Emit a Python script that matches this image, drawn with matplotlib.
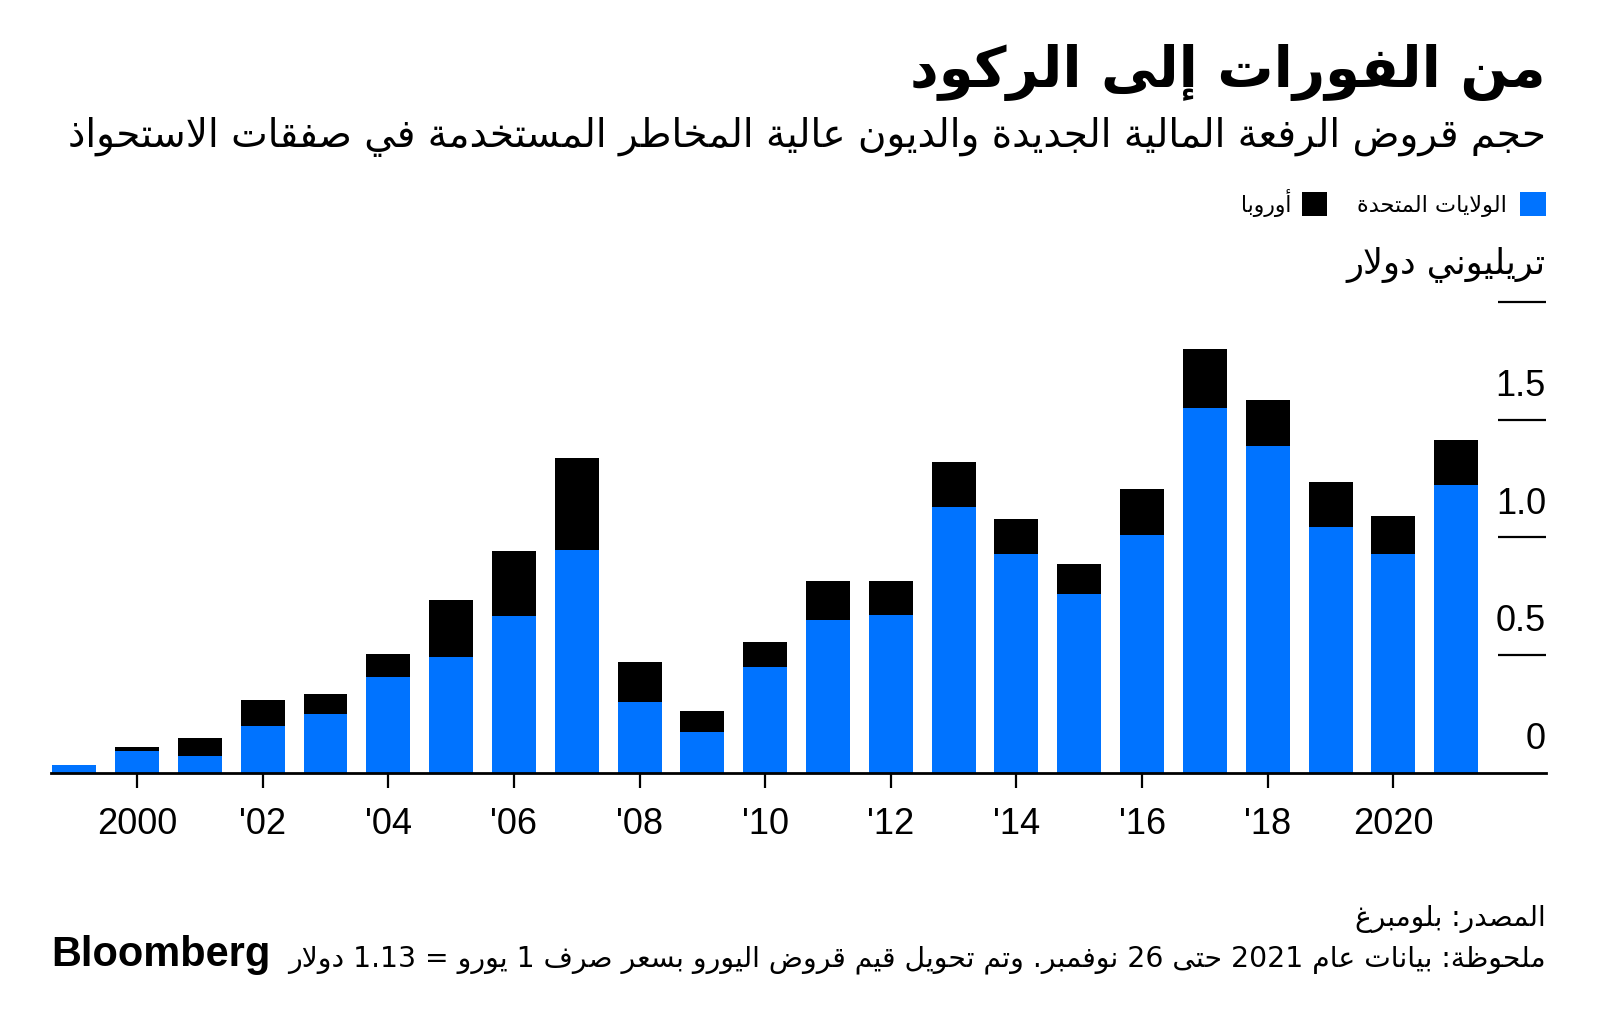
import re
import matplotlib
matplotlib.use("Agg")
import matplotlib.pyplot as plt
from matplotlib.patches import Rectangle
import matplotlib.transforms as mtransforms

# ---------------- data ----------------
years = list(range(1999, 2022))
us = [0.033, 0.093, 0.072, 0.198, 0.249, 0.407, 0.489, 0.667, 0.947, 0.300, 0.174, 0.447,
      0.650, 0.671, 1.128, 0.928, 0.760, 1.011, 1.548, 1.390, 1.043, 0.928, 1.222]
europe = [0.0, 0.014, 0.076, 0.110, 0.084, 0.095, 0.243, 0.274, 0.392, 0.171, 0.087, 0.108,
          0.166, 0.145, 0.192, 0.149, 0.128, 0.194, 0.252, 0.192, 0.192, 0.164, 0.192]
xtick_years = [2000, 2002, 2004, 2006, 2008, 2010, 2012, 2014, 2016, 2018, 2020]
xtick_labels = ["2000", "'02", "'04", "'06", "'08", "'10", "'12", "'14", "'16", "'18", "2020"]
ytick_vals = [0, 0.5, 1.0, 1.5]
ytick_labels = ["0", "0.5", "1.0", "1.5"]

title = "من الفورات إلى الركود"
subtitle = "حجم قروض الرفعة المالية الجديدة والديون عالية المخاطر المستخدمة في صفقات الاستحواذ"
legend_us = "الولايات المتحدة"
legend_eu = "أوروبا"
unit_label = "تريليوني دولار"
source = "المصدر: بلومبرغ"
note = "ملحوظة: بيانات عام 2021 حتى 26 نوفمبر. وتم تحويل قيم قروض اليورو بسعر صرف 1 يورو = 1.13 دولار"

BLUE = "#0073FF"

# ---------------- minimal Arabic shaping + bidi ----------------
DUAL = {'ئ': 0xFE89, 'ب': 0xFE8F, 'ت': 0xFE95, 'ث': 0xFE99, 'ج': 0xFE9D, 'ح': 0xFEA1,
        'خ': 0xFEA5, 'س': 0xFEB1, 'ش': 0xFEB5, 'ص': 0xFEB9, 'ض': 0xFEBD, 'ط': 0xFEC1,
        'ظ': 0xFEC5, 'ع': 0xFEC9, 'غ': 0xFECD, 'ف': 0xFED1, 'ق': 0xFED5, 'ك': 0xFED9,
        'ل': 0xFEDD, 'م': 0xFEE1, 'ن': 0xFEE5, 'ه': 0xFEE9, 'ي': 0xFEF1}
RIGHT = {'آ': 0xFE81, 'أ': 0xFE83, 'ؤ': 0xFE85, 'إ': 0xFE87, 'ا': 0xFE8D, 'ة': 0xFE93,
         'د': 0xFEA9, 'ذ': 0xFEAB, 'ر': 0xFEAD, 'ز': 0xFEAF, 'و': 0xFEED, 'ى': 0xFEEF}
NONE = {'ء': 0xFE80}
LAMALEF = {'آ': 0xFEF5, 'أ': 0xFEF7, 'إ': 0xFEF9, 'ا': 0xFEFB}


def shape(s):
    toks = []
    i = 0
    while i < len(s):
        c = s[i]
        if c == 'ل' and i + 1 < len(s) and s[i + 1] in LAMALEF:
            toks.append(('LA', s[i + 1]))
            i += 2
        else:
            toks.append((c, None))
            i += 1

    def jl(t):
        return t[0] != 'LA' and t[0] in DUAL

    def jr(t):
        return t[0] == 'LA' or t[0] in DUAL or t[0] in RIGHT

    out = []
    for k, t in enumerate(toks):
        c, a = t
        prev = toks[k - 1] if k > 0 else None
        nxt = toks[k + 1] if k + 1 < len(toks) else None
        jp = prev is not None and jl(prev) and jr(t)
        jn = nxt is not None and jl(t) and jr(nxt)
        if c == 'LA':
            out.append(chr(LAMALEF[a] + (1 if jp else 0)))
        elif c in DUAL:
            o = 3 if (jp and jn) else 2 if jn else 1 if jp else 0
            out.append(chr(DUAL[c] + o))
        elif c in RIGHT:
            out.append(chr(RIGHT[c] + (1 if jp else 0)))
        elif c in NONE:
            out.append(chr(NONE[c]))
        else:
            out.append(c)
    return ''.join(out)


def ar(s):
    sh = shape(s)
    toks = re.findall(r'[0-9A-Za-z]+(?:[.,][0-9A-Za-z]+)*|.', sh)
    return ''.join(reversed(toks))


# ---------------- figure ----------------
W, H = 1600, 1032
fig = plt.figure(figsize=(W / 100, H / 100), dpi=100)
fig.patch.set_facecolor("white")
renderer = fig.canvas.get_renderer()

AR_FONT = ["DejaVu Sans"]
NUM_FONT = ["Liberation Sans", "DejaVu Sans"]


def fx(x):
    return x / W


def fy(y):
    return 1 - y / H


def fit_text(x, y, s, width, ha="right", **kw):
    t = fig.text(fx(x), fy(y), s, ha=ha, va="baseline", **kw)
    bb = t.get_window_extent(renderer)
    t.set_fontsize(t.get_fontsize() * width / bb.width)
    return t


# axes
x0, x1 = 51, 1546
y_zero, y_top = 772.5, 302
ax = fig.add_axes([fx(x0), fy(y_zero), (x1 - x0) / W, (y_zero - y_top) / H])
ax.set_xlim(1998.63, 2022.43)
ax.set_ylim(0, 2.0)

ax.bar(years, us, width=0.70, color=BLUE, linewidth=0, zorder=2)
ax.bar(years, europe, width=0.70, bottom=us, color="black", linewidth=0, zorder=2)

for s in ["top", "left", "right"]:
    ax.spines[s].set_visible(False)
ax.spines["bottom"].set_linewidth(2.0)
ax.spines["bottom"].set_color("black")
ax.spines["bottom"].set_zorder(3)
ax.set_yticks([])
ax.set_xticks(xtick_years)
ax.set_xticklabels(xtick_labels, fontsize=26, family=NUM_FONT)
ax.tick_params(axis="x", length=11, width=1.6, color="black", pad=14)

# y tick lines and labels on the right
trans = mtransforms.blended_transform_factory(ax.transAxes, ax.transData)
for v, lab in zip(ytick_vals, ytick_labels):
    if v > 0:
        ax.plot([0.968, 1.0], [v, v], transform=trans, color="black", lw=1.6,
                clip_on=False, solid_capstyle="butt")
    ax.annotate(lab, xy=(1.0, v), xycoords=trans, xytext=(0, 17), textcoords="offset points",
                ha="right", va="baseline", fontsize=26, family=NUM_FONT)
# top tick line under the unit label
ax.plot([0.968, 1.0], [2.0, 2.0], transform=trans, color="black", lw=1.6,
        clip_on=False, solid_capstyle="butt")

# titles
fit_text(1546, 87, ar(title), 635, family=AR_FONT, fontweight="bold", fontsize=40)
fit_text(1546, 147, ar(subtitle), 1477, family=AR_FONT, fontsize=26)

# legend
fig.patches.append(Rectangle((fx(1520), fy(216)), 26 / W, 24 / H, transform=fig.transFigure,
                             facecolor=BLUE, edgecolor="none"))
fit_text(1507, 212, ar(legend_us), 150, family=AR_FONT, fontsize=16)
fig.patches.append(Rectangle((fx(1302), fy(216)), 25 / W, 24 / H, transform=fig.transFigure,
                             facecolor="black", edgecolor="none"))
fit_text(1291, 212, ar(legend_eu), 51, family=AR_FONT, fontsize=16)

# unit label
fit_text(1546, 274, ar(unit_label), 199, family=AR_FONT, fontsize=22)

# footer
fit_text(1546, 926, ar(source), 191, family=AR_FONT, fontsize=18)
fit_text(1546, 966, ar(note), 1257, family=AR_FONT, fontsize=18)
fit_text(51, 966, "Bloomberg", 219, ha="left", family=NUM_FONT, fontweight="bold", fontsize=28)

fig.savefig("out.png", dpi=100, facecolor="white")
